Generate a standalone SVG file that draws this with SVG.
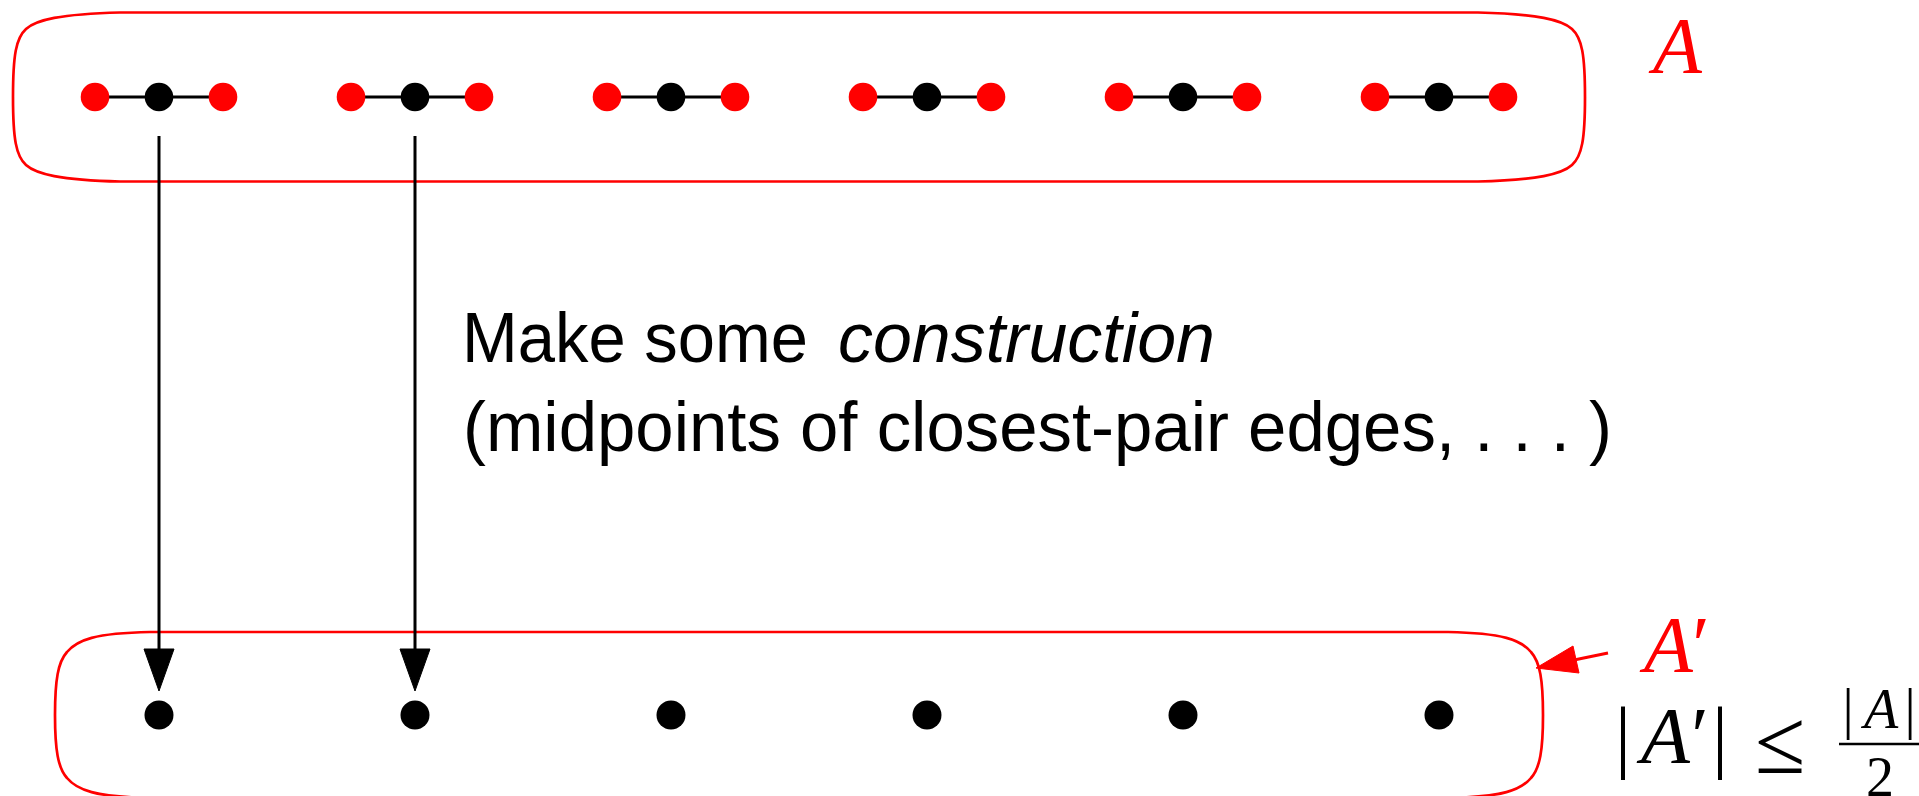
<svg xmlns="http://www.w3.org/2000/svg" width="1919" height="796" viewBox="0 0 1919 796">
<style>
.hull{fill:none;stroke:#ff0000;stroke-width:2.7}
.edge{stroke:#000;stroke-width:3}
.rd{fill:#ff0000}
.bk{fill:#000}
.conn{stroke:#000;stroke-width:3;fill:none}
.head{fill:#000;stroke:#000;stroke-width:1;stroke-linejoin:round}
.sans{font-family:"Liberation Sans",Arial,sans-serif;font-size:70px;fill:#000}
.mi{font-family:"Liberation Serif","Times New Roman",serif;font-style:italic;font-size:80px}
.mr{font-family:"Liberation Serif","Times New Roman",serif;font-size:80px}
.sm{font-size:56px}
.le{font-size:92px}
</style>
<rect width="1919" height="796" fill="#fff"/>

<g id="setA">
<path class="hull" d="M 13,97 C 13,55 16,38 26,29 C 36,20 60,14 120,12.5 L 1478,12.5 C 1538,14 1562,20 1572,29 C 1582,38 1585,55 1585,97 C 1585,139 1582,156 1572,165 C 1562,174 1538,180 1478,181.5 L 120,181.5 C 60,180 36,174 26,165 C 16,156 13,139 13,97 Z"/>
<text class="mi" x="1653" y="73" fill="#ff0000">A</text>
</g>

<g id="triples">
<g id="t1"><line class="edge" x1="95" y1="97" x2="223" y2="97"/><circle class="rd" cx="95" cy="97" r="14.3"/><circle class="bk" cx="159" cy="97" r="14.3"/><circle class="rd" cx="223" cy="97" r="14.3"/></g>
<g id="t2"><line class="edge" x1="351" y1="97" x2="479" y2="97"/><circle class="rd" cx="351" cy="97" r="14.3"/><circle class="bk" cx="415" cy="97" r="14.3"/><circle class="rd" cx="479" cy="97" r="14.3"/></g>
<g id="t3"><line class="edge" x1="607" y1="97" x2="735" y2="97"/><circle class="rd" cx="607" cy="97" r="14.3"/><circle class="bk" cx="671" cy="97" r="14.3"/><circle class="rd" cx="735" cy="97" r="14.3"/></g>
<g id="t4"><line class="edge" x1="863" y1="97" x2="991" y2="97"/><circle class="rd" cx="863" cy="97" r="14.3"/><circle class="bk" cx="927" cy="97" r="14.3"/><circle class="rd" cx="991" cy="97" r="14.3"/></g>
<g id="t5"><line class="edge" x1="1119" y1="97" x2="1247" y2="97"/><circle class="rd" cx="1119" cy="97" r="14.3"/><circle class="bk" cx="1183" cy="97" r="14.3"/><circle class="rd" cx="1247" cy="97" r="14.3"/></g>
<g id="t6"><line class="edge" x1="1375" y1="97" x2="1503" y2="97"/><circle class="rd" cx="1375" cy="97" r="14.3"/><circle class="bk" cx="1439" cy="97" r="14.3"/><circle class="rd" cx="1503" cy="97" r="14.3"/></g>
</g>

<g id="setAprime">
<path class="hull" d="M 55,715 C 55,680 58,662 67,652 C 77,640 95,633 150,632 L 1448,632 C 1503,633 1521,640 1531,652 C 1540,662 1543,680 1543,715 C 1543,750 1540,768 1531,778 C 1521,790 1503,797 1448,798 L 150,798 C 95,797 77,790 67,778 C 58,768 55,750 55,715 Z"/>
<text class="mi" x="1644" y="672" fill="#ff0000">A</text>
<text class="mr" x="1701" y="672" fill="#ff0000" text-anchor="middle">′</text>
</g>

<g id="points">
<circle class="bk" cx="159" cy="715" r="14.5"/>
<circle class="bk" cx="415" cy="715" r="14.5"/>
<circle class="bk" cx="671" cy="715" r="14.5"/>
<circle class="bk" cx="927" cy="715" r="14.5"/>
<circle class="bk" cx="1183" cy="715" r="14.5"/>
<circle class="bk" cx="1439" cy="715" r="14.5"/>
</g>

<g id="connectors">
<line class="conn" x1="159" y1="136" x2="159" y2="652"/>
<polygon class="head" points="144,649 174,649 159,691"/>
<line class="conn" x1="415" y1="136" x2="415" y2="652"/>
<polygon class="head" points="400,649 430,649 415,691"/>
<line x1="1608" y1="653" x2="1574" y2="660" stroke="#ff0000" stroke-width="3"/>
<polygon points="1536,668 1573,646 1579,673" fill="#ff0000" stroke="#ff0000" stroke-width="1" stroke-linejoin="round"/>
</g>

<g id="caption">
<text class="sans" x="462" y="362" textLength="346" lengthAdjust="spacingAndGlyphs">Make some</text>
<text class="sans" x="838" y="362" font-style="italic" textLength="377" lengthAdjust="spacingAndGlyphs">construction</text>
<text class="sans" x="463" y="451" textLength="1149" lengthAdjust="spacingAndGlyphs">(midpoints of closest-pair edges, . . . )</text>
</g>

<g id="bound">
<text class="mr" x="1623" y="763" text-anchor="middle">|</text>
<text class="mi" x="1641" y="763">A</text>
<text class="mr" x="1700" y="763" text-anchor="middle">′</text>
<text class="mr" x="1720" y="763" text-anchor="middle">|</text>
<text class="mr le" x="1780" y="773" text-anchor="middle">≤</text>
<line x1="1839" y1="744" x2="1919" y2="744" stroke="#000" stroke-width="2.7"/>
<text class="mr sm" x="1848" y="728" text-anchor="middle">|</text>
<text class="mi sm" x="1864" y="728">A</text>
<text class="mr sm" x="1910" y="728" text-anchor="middle">|</text>
<text class="mr sm" x="1880" y="796" text-anchor="middle">2</text>
</g>
</svg>
